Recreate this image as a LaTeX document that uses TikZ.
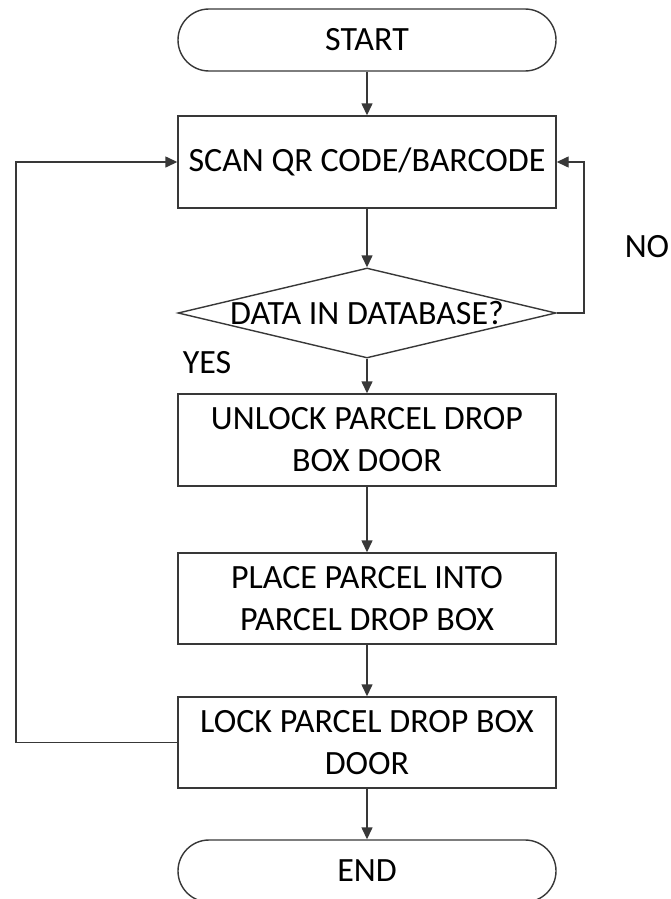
\documentclass[tikz,border=0pt]{standalone}
\usepackage{fontspec}
\setmainfont{Carlito}
\usetikzlibrary{shapes.geometric,arrows.meta}

\tikzset{
  flowline/.style={draw=black!78, line width=1.4pt},
  flowarrow/.style={flowline, -{Triangle[length=12pt,width=11pt]}},
  procbox/.style={flowline, rectangle, minimum width=378pt, minimum height=92pt,
                  inner sep=0pt, align=center, text=black,
                  font=\fontsize{34}{42}\selectfont},
  termbox/.style={flowline, rectangle, rounded corners=31pt, minimum width=378pt,
                  minimum height=62pt, inner sep=0pt, text=black,
                  font=\fontsize{34}{42}\selectfont},
  decbox/.style={flowline, diamond, minimum width=378pt, minimum height=90pt,
                 inner sep=0pt, text=black, font=\fontsize{34}{42}\selectfont},
  tag/.style={text=black, inner sep=0pt, font=\fontsize{34}{42}\selectfont}
}

\begin{document}
\begin{tikzpicture}[x=1pt, y=-1pt]
  \useasboundingbox (0,0) rectangle (671,899);
  \fill[white] (0,0) rectangle (671,899);

  % main column of steps
  \node[termbox] (start) at (367,40) {START};
  \node[procbox] (scan) at (367,162) {SCAN QR CODE/BARCODE};
  \node[decbox] (dec) at (367,313) {\makebox[0pt][c]{DATA IN DATABASE?}};
  \node[procbox] (unlock) at (367,440) {UNLOCK PARCEL DROP\\BOX DOOR};
  \node[procbox, minimum height=91pt] (place) at (367,598.5) {PLACE PARCEL INTO\\PARCEL DROP BOX};
  \node[procbox, minimum height=91pt] (lock) at (367,742.5) {LOCK PARCEL DROP BOX\\DOOR};
  \node[termbox] (end) at (367,871) {END};

  % branch labels
  \node[tag] (yes) at (207,363) {YES};
  \node[tag] (no) at (647,247) {NO};

  % return paths
  \coordinate (leftrail) at (16,0);
  \coordinate (rightrail) at (584,0);

  % straight flow
  \draw[flowarrow] (start.south) -- (scan.north);
  \draw[flowarrow] (scan.south) -- (dec.north);
  \draw[flowarrow] (dec.south) -- (unlock.north);
  \draw[flowarrow] (unlock.south) -- (place.north);
  \draw[flowarrow] (place.south) -- (lock.north);
  \draw[flowarrow] (lock.south) -- (end.north);

  % loops back to scanning
  \draw[flowarrow] (dec.east) -- (dec.east -| rightrail) |- (scan.east);
  \draw[flowarrow] (lock.west) -- (lock.west -| leftrail) |- (scan.west);
\end{tikzpicture}
\end{document}
